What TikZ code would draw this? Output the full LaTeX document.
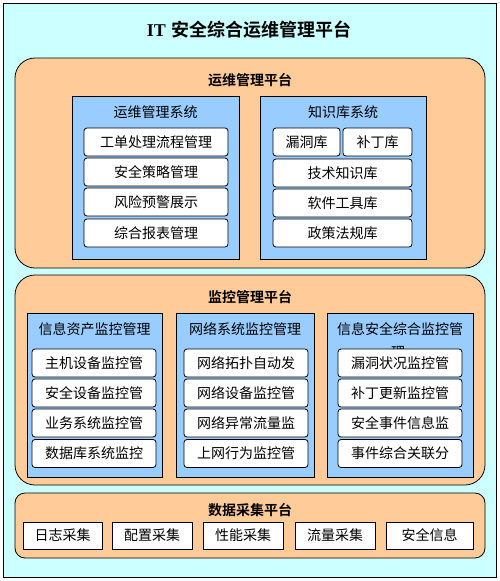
\documentclass[tikz,border=0pt]{standalone}
\usepackage{fontspec}
\newfontfamily\cjk{Noto Sans CJK SC}[BoldFont={Noto Sans CJK SC Bold}]
\newfontfamily\serf{Liberation Serif}
\definecolor{bgcyan}{HTML}{CCFFFF}
\definecolor{panelor}{HTML}{FFCC99}
\definecolor{sysblue}{HTML}{99CCFF}
\tikzset{
  panel/.style={draw=black, fill=panelor, line width=0.8pt},
  sysbox/.style={draw=black, fill=sysblue, line width=0.8pt},
  item/.style={draw=black, fill=white, rounded corners=3pt, line width=0.8pt,
    inner sep=0pt, minimum height=28pt, font=\cjk\fontsize{14}{16}\selectfont},
  dbox/.style={draw=black, fill=white, line width=0.8pt,
    inner sep=0pt, minimum height=27pt, font=\cjk\fontsize{14}{16}\selectfont},
  ptitle/.style={font=\cjk\bfseries\fontsize{14}{16}\selectfont, inner sep=0pt},
  stitle/.style={font=\cjk\fontsize{14}{16}\selectfont, inner sep=0pt},
}
\begin{document}
\begin{tikzpicture}[x=1pt,y=-1pt]
\useasboundingbox (0,0) rectangle (500,581);
% outer frame
\draw[fill=bgcyan, line width=0.8pt] (3,3) rectangle (496,577);
\node[inner sep=0pt] (title) at (249,30) {\fontsize{18}{20}\selectfont{\serf\bfseries IT} {\cjk\bfseries 安全综合运维管理平台}};

% ---------- panel 1
\draw[panel, rounded corners=20pt] (15,58) rectangle (485,268);
\node[ptitle] (p1t) at (250,80) {运维管理平台};
\draw[sysbox] (72,96) rectangle (239,259);
\node[stitle] (s1t) at (155.5,112) {运维管理系统};
\node[item, minimum width=144pt] (a1) at (156,142) {工单处理流程管理};
\node[item, minimum width=144pt] (a2) at (156,172) {安全策略管理};
\node[item, minimum width=144pt] (a3) at (156,202) {风险预警展示};
\node[item, minimum width=144pt] (a4) at (156,233) {综合报表管理};

\draw[sysbox] (260,96) rectangle (426,259);
\node[stitle] (s2t) at (343,112) {知识库系统};
\node[item, minimum width=67pt] (b1) at (306.5,142) {漏洞库};
\node[item, minimum width=69pt] (b2) at (377.5,142) {补丁库};
\node[item, minimum width=139pt] (b3) at (342.5,173) {技术知识库};
\node[item, minimum width=139pt] (b4) at (342.5,203) {软件工具库};
\node[item, minimum width=139pt] (b5) at (342.5,233) {政策法规库};

% ---------- panel 2
\draw[panel, rounded corners=20pt] (15,275) rectangle (485,485);
\node[ptitle] (p2t) at (250,297) {监控管理平台};

\draw[sysbox] (27,313) rectangle (162,477);
\node[stitle] (m1t) at (94.5,329) {信息资产监控管理};
\node[item, minimum width=124pt] (c1) at (94,363) {主机设备监控管};
\node[item, minimum width=124pt] (c2) at (94,393) {安全设备监控管};
\node[item, minimum width=124pt] (c3) at (94,423) {业务系统监控管};
\node[item, minimum width=124pt] (c4) at (94,453.5) {数据库系统监控};

\draw[sysbox] (176,313) rectangle (314,477);
\node[stitle] (m2t) at (245,329) {网络系统监控管理};
\node[item, minimum width=124pt] (d1) at (246,363) {网络拓扑自动发};
\node[item, minimum width=124pt] (d2) at (246,393) {网络设备监控管};
\node[item, minimum width=124pt] (d3) at (246,423) {网络异常流量监};
\node[item, minimum width=124pt] (d4) at (246,453.5) {上网行为监控管};

\draw[sysbox] (327,313) rectangle (473,477);
\node[stitle] (m3t) at (400,329) {信息安全综合监控管};
\node[stitle] (m3t2) at (398,352) {理};
\node[item, minimum width=124pt] (e1) at (400,363) {漏洞状况监控管};
\node[item, minimum width=124pt] (e2) at (400,393) {补丁更新监控管};
\node[item, minimum width=124pt] (e3) at (400,423) {安全事件信息监};
\node[item, minimum width=124pt] (e4) at (400,453.5) {事件综合关联分};

% ---------- panel 3
\draw[panel, rounded corners=10pt] (15,493) rectangle (485,558);
\node[ptitle] (p3t) at (250,510) {数据采集平台};
\node[dbox, minimum width=79pt] (f1) at (62.5,535.5) {日志采集};
\node[dbox, minimum width=80pt] (f2) at (152,535.5) {配置采集};
\node[dbox, minimum width=80pt] (f3) at (243,535.5) {性能采集};
\node[dbox, minimum width=80pt] (f4) at (335,535.5) {流量采集};
\node[dbox, minimum width=87pt] (f5) at (429.5,535.5) {安全信息};
\end{tikzpicture}
\end{document}
